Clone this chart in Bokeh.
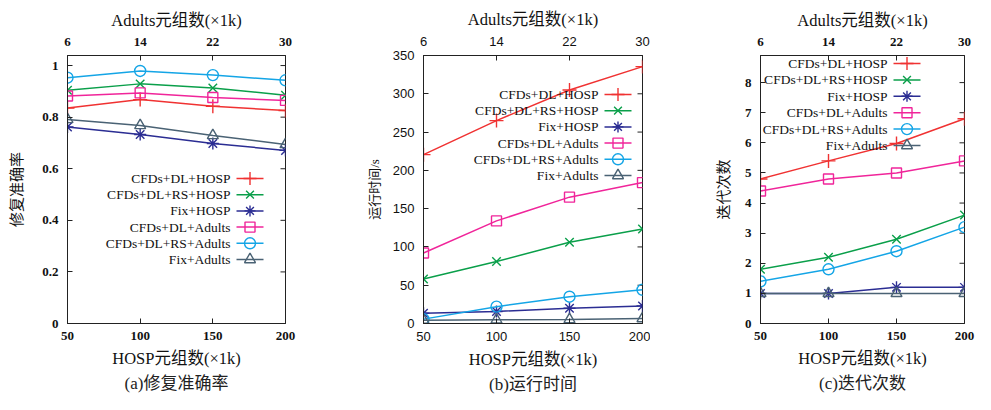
from bokeh.plotting import figure
from bokeh.models import LinearAxis, FixedTicker, Label, Title, Range1d
from bokeh.layouts import row
from bokeh.embed import file_html
from bokeh.resources import INLINE

# ---------------- data ----------------
hosp = [50, 100, 150, 200]
adults = [6, 14, 22, 30]
series_names = ["CFDs+DL+HOSP", "CFDs+DL+RS+HOSP", "Fix+HOSP",
                "CFDs+DL+Adults", "CFDs+DL+RS+Adults", "Fix+Adults"]

acc_cfds_dl_hosp = [0.835, 0.868, 0.842, 0.826]
acc_cfds_dl_rs_hosp = [0.904, 0.929, 0.913, 0.885]
acc_fix_hosp = [0.762, 0.733, 0.698, 0.671]
acc_cfds_dl_adults = [0.882, 0.894, 0.876, 0.865]
acc_cfds_dl_rs_adults = [0.953, 0.979, 0.963, 0.943]
acc_fix_adults = [0.791, 0.768, 0.729, 0.694]

time_cfds_dl_hosp = [220.5, 265, 305, 335.5]
time_cfds_dl_rs_hosp = [58, 81, 106, 123.5]
time_fix_hosp = [13.5, 15.7, 20, 23]
time_cfds_dl_adults = [92, 134, 165, 184]
time_cfds_dl_rs_adults = [5.7, 22, 35, 44]
time_fix_adults = [4.4, 4.8, 5.2, 6.5]

iter_cfds_dl_hosp = [4.8, 5.4, 5.98, 6.8]
iter_cfds_dl_rs_hosp = [1.8, 2.2, 2.8, 3.6]
iter_fix_hosp = [1.0, 1.0, 1.2, 1.2]
iter_cfds_dl_adults = [4.4, 4.8, 5.0, 5.4]
iter_cfds_dl_rs_adults = [1.4, 1.8, 2.4, 3.2]
iter_fix_adults = [1.0, 1.0, 1.0, 1.0]

acc_ticks = [0, 0.2, 0.4, 0.6, 0.8, 1.0]
acc_tick_labels = ["0", "0.2", "0.4", "0.6", "0.8", "1"]
time_ticks = [0, 50, 100, 150, 200, 250, 300, 350]
time_tick_labels = ["0", "50", "100", "150", "200", "250", "300", "350"]
iter_ticks = [0, 1, 2, 3, 4, 5, 6, 7, 8]
iter_tick_labels = ["0", "1", "2", "3", "4", "5", "6", "7", "8"]

x_title = "HOSP元组数(×1k)"
top_title = "Adults元组数(×1k)"

# ---------------- style ----------------
SERIF = "'Liberation Serif', 'Noto Sans CJK SC'"
SANS = "'Liberation Sans', 'Noto Sans CJK SC'"
colors = ["#f03232", "#0a9f4a", "#2b2d93", "#f0259a", "#14a5e6", "#4a6274"]
markers = ["cross", "x", "asterisk", "square", "circle", "triangle"]
msizes = [14, 12, 12, 10, 11, 11]
leg_msizes = [13, 11, 11, 10, 11, 11]
AX = "#222222"

FIG_H = 394
FRAME_TOP = 55
FRAME_H = 268
SAMPLE_W = 27


def style_axis(ax, tick_font, tick_style):
    ax.axis_line_color = AX
    ax.axis_line_width = 1
    ax.major_tick_line_color = AX
    ax.major_tick_in = 5
    ax.major_tick_out = 0
    ax.minor_tick_line_color = None
    ax.major_label_text_font = tick_font
    ax.major_label_text_font_style = tick_style
    ax.major_label_text_font_size = "13px"
    ax.major_label_text_color = "#111111"
    ax.axis_label_text_font = SERIF
    ax.axis_label_text_font_style = "normal"
    ax.axis_label_text_color = "#111111"


def make_panel(series, yticks, ylabels, ymax, ylabel, ylabel_size, ylabel_standoff, caption,
               width, bl, br, tick_font, tick_style, leg_x, leg_y0, pitch):
    frame_w = width - bl - br
    p = figure(width=width, height=FIG_H, output_backend="svg", toolbar_location=None,
               x_range=Range1d(50, 200), y_range=Range1d(0, ymax),
               min_border_left=bl, min_border_right=br, min_border_top=FRAME_TOP,
               min_border_bottom=FIG_H - FRAME_TOP - FRAME_H,
               x_axis_location=None, y_axis_location=None)
    # pixel-unit ranges used only to place the key samples
    p.extra_x_ranges = {"px": Range1d(0, frame_w)}
    p.extra_y_ranges = {"px": Range1d(0, FRAME_H)}
    p.xgrid.visible = False
    p.ygrid.visible = False
    p.outline_line_color = AX
    p.outline_line_width = 1
    p.background_fill_color = "white"
    p.border_fill_color = "white"

    # bottom axis
    xb = LinearAxis(ticker=FixedTicker(ticks=hosp),
                    major_label_overrides={h: str(h) for h in hosp})
    style_axis(xb, tick_font, tick_style)
    xb.major_label_standoff = 8
    xb.axis_label = x_title
    xb.axis_label_text_font_size = "16.5px"
    xb.axis_label_standoff = 6
    p.add_layout(xb, "below")

    # top axis (Adults)
    xt = LinearAxis(ticker=FixedTicker(ticks=hosp),
                    major_label_overrides={h: str(a) for h, a in zip(hosp, adults)})
    style_axis(xt, tick_font, tick_style)
    xt.major_label_standoff = 10
    xt.axis_label = top_title
    xt.axis_label_text_font_size = "16.5px"
    xt.axis_label_standoff = 5
    p.add_layout(xt, "above")

    # left axis
    yl = LinearAxis(ticker=FixedTicker(ticks=yticks),
                    major_label_overrides={t: s for t, s in zip(yticks, ylabels)})
    style_axis(yl, tick_font, tick_style)
    yl.major_label_standoff = 9
    yl.axis_label = ylabel
    yl.axis_label_text_font_size = ylabel_size
    yl.axis_label_standoff = ylabel_standoff
    p.add_layout(yl, "left")

    # mirror ticks on the right edge (half of each dash is clipped by the frame)
    p.scatter([hosp[-1]] * len(yticks), yticks, marker="dash", size=10,
              line_color=AX, line_width=1)

    for i, (name, vals, col, mk, ms, lms) in enumerate(
            zip(series_names, series, colors, markers, msizes, leg_msizes)):
        p.line(hosp, vals, line_color=col, line_width=1.5)
        p.scatter(hosp, vals, marker=mk, size=ms, line_color=col,
                  fill_color=None, line_width=1.4)
        # key entry: text on the left, sample on the right (gnuplot style)
        yc = leg_y0 - pitch * i
        p.line([leg_x, leg_x + SAMPLE_W], [yc, yc], x_range_name="px", y_range_name="px",
               line_color=col, line_width=1.5)
        p.scatter([leg_x + SAMPLE_W / 2], [yc], x_range_name="px", y_range_name="px",
                  marker=mk, size=lms, line_color=col, fill_color=None, line_width=1.4)
        p.add_layout(Label(x=leg_x - 6, y=yc, x_units="screen", y_units="screen",
                           text=name, text_align="right", text_baseline="middle",
                           text_font=SERIF, text_font_size="13.5px", text_color="#111111"))

    cap = Title(text=caption, align="center", text_font=SERIF, text_font_size="17px",
                text_font_style="normal", text_color="#222222", standoff=2)
    p.add_layout(cap, "below")
    return p


pa = make_panel([acc_cfds_dl_hosp, acc_cfds_dl_rs_hosp, acc_fix_hosp,
                 acc_cfds_dl_adults, acc_cfds_dl_rs_adults, acc_fix_adults],
                acc_ticks, acc_tick_labels, 1.039, "修复准确率", "15px", 14, "(a)修复准确率",
                325, 67, 40, SERIF, "bold", 169, 145, 16.2)

pb = make_panel([time_cfds_dl_hosp, time_cfds_dl_rs_hosp, time_fix_hosp,
                 time_cfds_dl_adults, time_cfds_dl_rs_adults, time_fix_adults],
                time_ticks, time_tick_labels, 350, "运行时间/s", "13px", 8, "(b)运行时间",
                325, 98, 8, SANS, "normal", 181, 229, 16.2)

pc = make_panel([iter_cfds_dl_hosp, iter_cfds_dl_rs_hosp, iter_fix_hosp,
                 iter_cfds_dl_adults, iter_cfds_dl_rs_adults, iter_fix_adults],
                iter_ticks, iter_tick_labels, 8.9, "迭代次数", "15px", 10, "(c)迭代次数",
                325, 110, 11, SERIF, "bold", 133, 260, 16.4)

layout = row(pa, pb, pc)
open("out.html", "w").write(file_html(layout, INLINE))
